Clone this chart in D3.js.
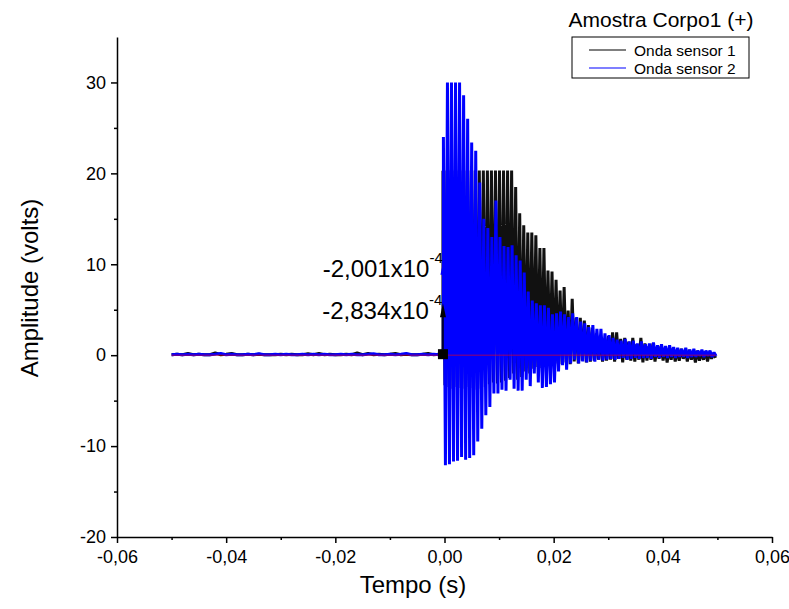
<!DOCTYPE html>
<html>
<head>
<meta charset="utf-8">
<script src="https://cdn.jsdelivr.net/npm/d3@7"></script>
<style>
  body { margin: 0; background: #fff; }
  svg text { font-family: Arial, "Liberation Sans", sans-serif; fill: #000; }
</style>
</head>
<body>
<div id="chart"></div>
<script>
// --- data ---
const xTicks = [-0.06, -0.04, -0.02, 0.00, 0.02, 0.04, 0.06];
const xMinorTicks = [-0.05, -0.03, -0.01, 0.01, 0.03, 0.05];
const yTicks = [-20, -10, 0, 10, 20, 30];
const yMinorTicks = [-15, -5, 5, 15, 25];
const seriesNames = ["Onda sensor 1", "Onda sensor 2"];
const legendTitle = "Amostra Corpo1 (+)";

// pre-trigger noise, one value every millisecond from -0.05 s
const noiseStart = -0.05, noiseStep = 0.001;
const noise1 = [0.05, 0.1, 0.05, 0.2, 0.05, 0.1, 0.05, 0.05, 0.25, 0.05, 0.1, 0.2, 0.05, 0.05, 0.1, 0.05, 0.1, 0.05, 0.05, 0.05,
                0.1, 0.05, 0.1, 0.05, 0.05, 0.15, 0.05, 0.2, 0.05, 0.1, 0.05, 0.05, 0.1, 0.05, 0.25, 0.05, 0.2, 0.05, 0.1, 0.05,
                0.1, 0.2, 0.05, 0.1, 0.05, 0.05, 0.1, 0.2, 0.05, 0.1];
const noise2 = [0.05, 0.1, 0.05, 0.1, 0.05, 0.1, 0.05, 0.05, 0.1, 0.2, 0.05, 0.1, 0.05, 0.05, 0.1, 0.05, 0.15, 0.05, 0.05, 0.1,
                0.05, 0.1, 0.05, 0.05, 0.1, 0.05, 0.1, 0.05, 0.1, 0.05, 0.05, 0.1, 0.05, 0.1, 0.05, 0.05, 0.1, 0.15, 0.05, 0.05,
                0.1, 0.05, 0.1, 0.2, 0.05, 0.05, 0.1, 0.05, 0.1, 0.05];

// oscillation after the trigger: one max and one min per period
const period = 0.00074;
const trigger1 = -2.834e-4, trigger2 = -2.001e-4;
const peaks1 = [20.3, 20.3, 20.3, 20.3, 20.3, 20.3, 20.3, 20.3, 20.3, 20.3, 20.3, 20.3, 20.3, 20.3, 20.3, 20.3, 20.3, 20.3,
                18.5, 15.6, 14.3, 13.5, 13.5, 13.2, 11.8, 11.8, 9.3, 9.2, 8.3, 7.1, 7.5, 4.9, 6.2, 4.1, 4.1, 3.8, 3.3, 3.0,
                2.4, 2.2, 1.8, 2.1, 2.5, 2.5, 1.8, 1.9, 1.5, 1.9, 1.2, 1.9, 1.3, 1.0, 1.3, 0.9, 1.0, 0.8, 0.7, 0.8,
                0.6, 0.7, 0.5, 0.6, 0.4, 0.5, 0.3, 0.4, 0.3, 0.2];
const troughs1 = [-3.3, -3.5, -3.7, -3.5, -3.6, -3.7, -3.5, -3.6, -3.8, -3.7, -3.5, -3.2, -3.0, -3.1, -3.0, -2.8, -2.5, -2.0,
                  -2.7, -2.4, -1.8, -2.0, -1.5, -1.3, -1.4, -1.2, -1.0, -1.1, -0.9, -1.0, -0.8, -1.0, -0.7, -0.9, -0.6,
                  -0.8, -0.7, -0.6, -0.5, -0.7, -0.6, -0.5, -0.7, -0.4, -0.8, -0.5, -0.6, -0.7, -0.5, -0.8, -0.6, -0.5,
                  -0.7, -0.4, -0.6, -0.8, -0.5, -0.7, -0.6, -0.4, -0.7, -0.5, -0.8, -0.6, -0.5, -0.7, -0.4, -0.3];
const peaks2 = [24, 30, 30, 30, 30, 28.6, 26, 23.4, 22.5, 19, 15, 14, 13, 17, 13, 12, 11.9, 12.1, 11, 10.4,
                9.1, 7, 6, 5.7, 5.5, 5.5, 5.2, 4.5, 4.6, 4.8, 4.5, 4.2, 4.6, 4.2, 3.7, 3.5, 3.1, 3.3, 2.9, 2.9,
                2.4, 2.2, 1.9, 1.7, 1.6, 1.8, 1.5, 1.6, 1.3, 1.5, 1.2, 1.3, 1.4, 1.1, 1.2, 1.0, 1.1, 0.9, 0.8, 0.7,
                0.8, 0.6, 0.7, 0.5, 0.6, 0.5, 0.5, 0.3];
const troughs2 = [-12.1, -12.0, -11.7, -11.6, -11.2, -11.5, -11.3, -11.0, -9.5, -8.1, -6.6, -5.7, -4.2, -4.2, -3.8, -3.9,
                  -2.7, -3.7, -3.9, -3.9, -2.7, -3.4, -2.0, -3.0, -3.6, -3.5, -3.2, -3.0, -1.8, -1.1, -1.6, -0.9, -0.5,
                  -0.9, -0.7, -0.8, -0.6, -0.7, -0.5, -0.6, -0.5, -0.4, -0.5, -0.4, -0.3, -0.5, -0.4, -0.3, -0.4, -0.3,
                  -0.3, -0.4, -0.2, -0.3, -0.2, -0.3, -0.2, -0.3, -0.2, -0.2, -0.3, -0.2, -0.2, -0.1, -0.2, -0.1, -0.2, -0.1];

// annotation arrows (tip heights) and labels
const marks = [
  {t: trigger2, v: 10.4, label: "-2,001x10", exp: "-4", color: "#0000ff"},
  {t: trigger1, v: 5.7, label: "-2,834x10", exp: "-4", color: "#000000"}
];

const width = 789, height = 609;

const x = d3.scaleLinear().domain([-0.06, 0.06]).range([117, 772]);
const y = d3.scaleLinear().domain([-20, 35]).range([537, 37]);

const loc = d3.formatLocale({decimal: ",", thousands: ".", grouping: [3], currency: ["", ""], minus: "-"});
const fmtX = loc.format(".2f");
const fmtY = loc.format("d");

const svg = d3.select("#chart").append("svg")
    .attr("width", width)
    .attr("height", height);

function buildSeries(noise, t0, peaks, troughs) {
  const pts = noise.map((v, k) => [noiseStart + k * noiseStep, v]);
  pts.push([t0, 0]);
  peaks.forEach((v, i) => {
    pts.push([t0 + i * period, v]);
    pts.push([t0 + (i + 0.5) * period, troughs[i]]);
  });
  return pts;
}

const s1 = buildSeries(noise1, trigger1, peaks1, troughs1);
const s2 = buildSeries(noise2, trigger2, peaks2, troughs2);

const line = d3.line().x(d => x(d[0])).y(d => y(d[1]));

// traces
svg.append("path").datum(s1)
    .attr("d", line)
    .attr("fill", "none")
    .attr("stroke", "#111")
    .attr("stroke-width", 3)
    .attr("stroke-linejoin", "bevel");

svg.append("path").datum(s2)
    .attr("d", line)
    .attr("fill", "none")
    .attr("stroke", "#0000ff")
    .attr("stroke-width", 3)
    .attr("stroke-linejoin", "bevel");

// zero baseline in red
svg.append("line")
    .attr("x1", x(noiseStart)).attr("x2", x(s1[s1.length - 1][0]))
    .attr("y1", y(0)).attr("y2", y(0))
    .attr("stroke", "#ff0000")
    .attr("stroke-opacity", 0.6)
    .attr("stroke-width", 1);

// axes
const xAxis = svg.append("g")
    .attr("transform", "translate(0," + y(-20) + ")")
    .call(d3.axisBottom(x).tickValues(xTicks).tickFormat(fmtX).tickSize(6).tickSizeOuter(0).tickPadding(5));
svg.append("g")
    .attr("transform", "translate(0," + y(-20) + ")")
    .call(d3.axisBottom(x).tickValues(xMinorTicks).tickFormat("").tickSize(3).tickSizeOuter(0))
    .select(".domain").remove();

const yAxis = svg.append("g")
    .attr("transform", "translate(" + x(-0.06) + ",0)")
    .call(d3.axisLeft(y).tickValues(yTicks).tickFormat(fmtY).tickSize(6).tickSizeOuter(0).tickPadding(5));
svg.append("g")
    .attr("transform", "translate(" + x(-0.06) + ",0)")
    .call(d3.axisLeft(y).tickValues(yMinorTicks).tickFormat("").tickSize(3).tickSizeOuter(0))
    .select(".domain").remove();

svg.selectAll(".domain, .tick line")
    .attr("stroke", "#000")
    .attr("stroke-width", 1.5);

xAxis.selectAll("text").style("font-size", "18px").attr("dy", "0.85em");
yAxis.selectAll("text").style("font-size", "18px");

// axis titles
svg.append("text")
    .attr("x", 413).attr("y", 593)
    .attr("text-anchor", "middle")
    .style("font-size", "24px")
    .text("Tempo (s)");

svg.append("text")
    .attr("transform", "translate(38,288) rotate(-90)")
    .attr("text-anchor", "middle")
    .style("font-size", "24px")
    .text("Amplitude (volts)");

// annotations
svg.append("rect")
    .attr("x", x(trigger1) - 5).attr("y", y(0) - 6)
    .attr("width", 10).attr("height", 10)
    .attr("fill", "#000");

marks.forEach(m => {
  const ax = x(m.t), tip = y(m.v);
  svg.append("line")
      .attr("x1", ax).attr("x2", ax)
      .attr("y1", tip + 12).attr("y2", m.color === "#000000" ? y(0) - 6 : tip + 30)
      .attr("stroke", m.color).attr("stroke-width", 1.5);
  svg.append("path")
      .attr("d", `M${ax},${tip} L${ax - 3},${tip + 14} L${ax + 3},${tip + 14} Z`)
      .attr("fill", m.color);
  svg.append("text")
      .attr("x", ax - 14).attr("y", tip + 16)
      .attr("text-anchor", "end")
      .style("font-size", "24px")
      .text(m.label);
  svg.append("text")
      .attr("x", ax - 14).attr("y", tip + 2)
      .style("font-size", "15px")
      .text(m.exp);
});

// legend
svg.append("text")
    .attr("x", 661).attr("y", 27)
    .attr("text-anchor", "middle")
    .style("font-size", "21px")
    .text(legendTitle);

const lg = svg.append("g");
lg.append("rect")
    .attr("x", 572).attr("y", 37)
    .attr("width", 177).attr("height", 41)
    .attr("fill", "#fff")
    .attr("stroke", "#000")
    .attr("stroke-width", 1);

const colors = ["#000000", "#0000ff"];
seriesNames.forEach((name, i) => {
  const ly = 50 + i * 18;
  lg.append("line")
      .attr("x1", 589).attr("x2", 626)
      .attr("y1", ly).attr("y2", ly)
      .attr("stroke", colors[i]).attr("stroke-width", 1.2);
  lg.append("text")
      .attr("x", 634).attr("y", ly + 6)
      .style("font-size", "15.5px")
      .text(name);
});
</script>
</body>
</html>
